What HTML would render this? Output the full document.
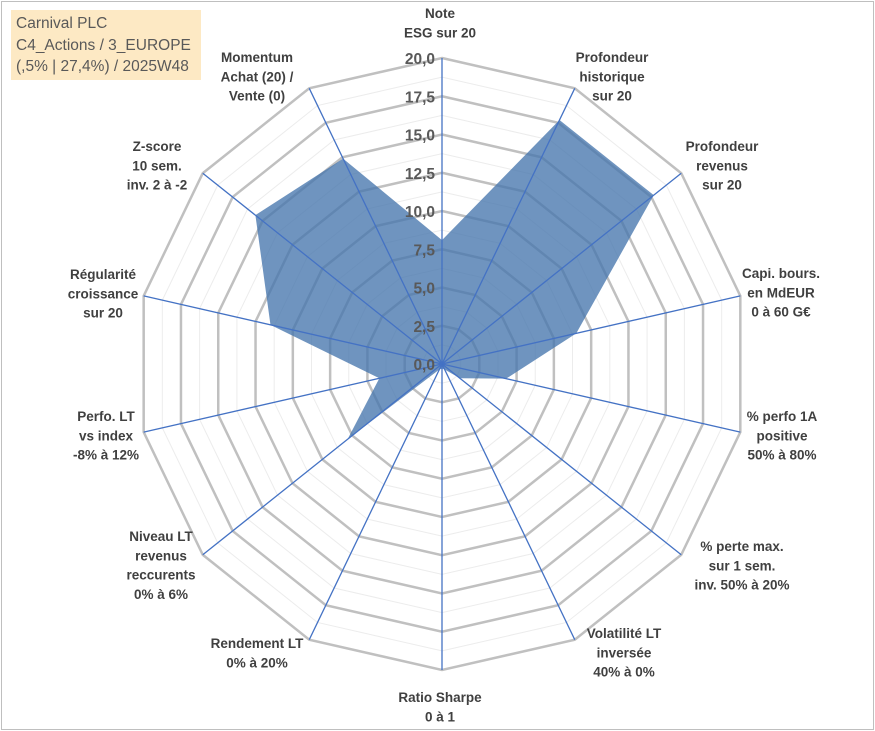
<!DOCTYPE html>
<html><head><meta charset="utf-8"><style>
body{margin:0;background:#fff;}
#wrap{position:relative;width:875px;height:731px;overflow:hidden;font-family:"Liberation Sans",sans-serif;}
#frame{position:absolute;left:1px;top:1px;width:871px;height:727px;border:1px solid #bfbfbf;}
#title{position:absolute;left:11px;top:10px;width:190px;height:70px;background:#fde9c4;color:#595959;font-size:15.5px;line-height:21.5px;padding:3px 0 0 5px;box-sizing:border-box;}
</style></head><body>
<div id="wrap">
<div id="frame"></div>
<svg id="svg" width="875" height="731" style="position:absolute;left:0;top:0"></svg>
<div id="title">Carnival PLC<br>C4_Actions / 3_EUROPE<br>(,5% | 27,4%) / 2025W48</div>
</div>
<script>
const categories=[["Note","ESG sur 20"],["Profondeur","historique","sur 20"],["Profondeur","revenus","sur 20"],["Capi. bours.","en MdEUR","0 à 60 G€"],["% perfo 1A","positive","50% à 80%"],["% perte max.","sur 1 sem.","inv. 50% à 20%"],["Volatilité LT","inversée","40% à 0%"],["Ratio Sharpe","0 à 1"],["Rendement LT","0% à 20%"],["Niveau LT","revenus","reccurents","0% à 6%"],["Perfo. LT","vs index","-8% à 12%"],["Régularité","croissance","sur 20"],["Z-score","10 sem.","inv. 2 à -2"],["Momentum","Achat (20) /","Vente (0)"]];
const values=[8.1,17.7,17.7,9.0,4.3,1.5,0.4,0.3,0.4,7.9,4.2,11.5,15.6,14.9];
const tickLabels=["0,0","2,5","5,0","7,5","10,0","12,5","15,0","17,5","20,0"];
const maxVal=20;
// label anchor layout (center x, first line center y)
const labelLayout=[[440,13],[612,57],[722,146],[781,273],[782,416],[742,546],[624,633],[440,697],[257,643],[161,536],[106,416],[103,274],[157,146],[257,57]];
const cx=442,cy=364,R=306;
const svg=document.getElementById('svg');
const NS='http://www.w3.org/2000/svg';
const n=categories.length;
function ang(i){return i*2*Math.PI/n;}
function pt(i,v){const r=v/maxVal*R;return [cx+r*Math.sin(ang(i)),cy-r*Math.cos(ang(i))];}
function mk(t,a){const e=document.createElementNS(NS,t);for(const k in a)e.setAttribute(k,a[k]);svg.appendChild(e);return e;}
for(let s=1;s<=16;s++){const v=s*1.25;const p=[];for(let i=0;i<n;i++)p.push(pt(i,v).join(','));
const g=mk('polygon',{points:p.join(' '),fill:'none',stroke:s%2==0?'#c0c0c0':'#ececec','stroke-width':s%2==0?2.5:1});

}
const sp=values.map((v,i)=>pt(i,v).join(',')).join(' ');
const poly=mk('polygon',{points:sp,fill:'#4676ad','fill-opacity':0.78,stroke:'none'});


for(let i=0;i<n;i++){const e=pt(i,maxVal);const l=mk('line',{x1:cx,y1:cy,x2:e[0],y2:e[1],stroke:'#4472c4','stroke-width':1.3});

}
tickLabels.forEach((t,k)=>{const y=cy-(k*2.5)/maxVal*R;const tx=mk('text',{x:cx-7,y:y+6,'text-anchor':'end','font-size':15.5,'font-weight':'bold',fill:'#595959'});tx.textContent=t;

});
categories.forEach((lines,i)=>{const x=labelLayout[i][0],y0=labelLayout[i][1]+5;
const tx=mk('text',{x:x,y:y0,'text-anchor':'middle','font-size':13.5,'font-weight':'bold',fill:'#404040'});


lines.forEach((l,j)=>{const ts=document.createElementNS(NS,'tspan');ts.setAttribute('x',x);ts.setAttribute('y',y0+j*19.3);ts.textContent=l;tx.appendChild(ts);});});
</script>
</body></html>
